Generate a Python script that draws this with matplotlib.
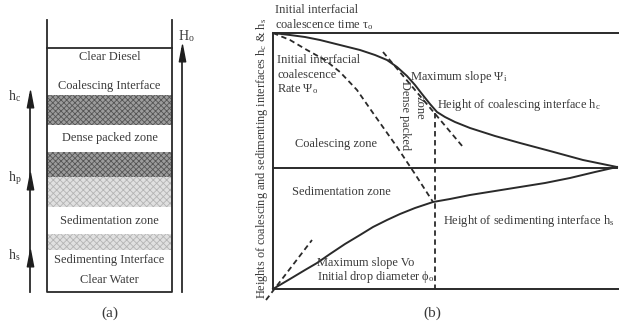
import matplotlib.pyplot as plt
from matplotlib.path import Path

plt.rcParams['font.family'] = ['Liberation Serif', 'DejaVu Serif']
plt.rcParams['mathtext.fontset'] = 'stix'
plt.rcParams['hatch.linewidth'] = 0.6

INK = '#2a2a2a'
TXT = '#3a3a3a'

# ---- panel (a): settling column (pixel units of the sketch) ----
col_left, col_right = 47, 172
col_top, col_bottom = 20, 292
diesel_line = 48
dark_zones = [(95, 125), (152, 177)]
light_zones = [(177, 207), (234, 250)]
col_labels = ['Clear Diesel', 'Coalescing Interface', 'Dense packed zone',
              'Sedimentation zone', 'Sedimenting Interface', 'Clear Water']
col_label_y = [57, 86, 138, 221, 260, 280]
left_arrow_x, right_arrow_x = 30, 182
left_heads = [93, 175, 252]
left_names = [r'h$_\mathregular{c}$', r'h$_\mathregular{p}$', r'h$_\mathregular{s}$']
right_head = 47

# ---- panel (b): interface heights vs time ----
frame_left, frame_right = 273, 619
frame_top, frame_mid, frame_bottom = 33, 168, 289
hc_x = [273, 290, 305, 320, 340, 360, 375, 387, 397, 407, 415, 422, 430, 437,
        445, 455, 470, 495, 520, 550, 583, 617]
hc_y = [33, 35, 37, 40, 45, 50, 55, 60, 67, 76, 85, 94, 104, 112,
        117, 122, 128, 136, 143, 151, 160, 167]
hs_x = [273, 290, 305, 317, 330, 345, 360, 373, 387, 400, 415, 433, 450,
        470, 495, 520, 545, 570, 595, 617]
hs_y = [289, 279, 270, 263, 254, 244, 235, 227, 220, 214, 208, 202, 199,
        195, 191, 187, 183, 178, 172, 167]
rate_x = [273, 290, 307, 325, 340, 357, 373, 385, 397, 415, 433]
rate_y = [33, 40, 50, 60, 72, 90, 113, 130, 147, 174, 202]
max_slope_x = [383, 463]
max_slope_y = [52, 147]
vo_x = [266, 312]
vo_y = [300, 240]
tau_x = 435

fig = plt.figure(figsize=(6.19, 3.24), dpi=100)
ax = fig.add_axes([0, 0, 1, 1])
ax.set_xlim(0, 619)
ax.set_ylim(324, 0)
ax.axis('off')

# column fills
for top, bot in dark_zones:
    ax.fill_between([col_left, col_right], top, bot, facecolor='#9c9c9c',
                    hatch='xxxxxx', edgecolor='#555555', linewidth=0)
for top, bot in light_zones:
    ax.fill_between([col_left, col_right], top, bot, facecolor='#e0e0e0',
                    hatch='xxxxx', edgecolor='#b4b4b4', linewidth=0)

# column walls
ax.plot([col_left, col_left, col_right, col_right],
        [col_top, col_bottom, col_bottom, col_top], color=INK, lw=1.3)
ax.plot([col_left, col_right], [diesel_line, diesel_line], color=INK, lw=1.3)

for s, y in zip(col_labels, col_label_y):
    ax.text((col_left + col_right) / 2, y, s, ha='center', va='center',
            fontsize=8.9, color=TXT)

# arrows
head = Path([(0, 1), (-0.38, -1), (0.38, -1), (0, 1)],
            [Path.MOVETO, Path.LINETO, Path.LINETO, Path.CLOSEPOLY])
ax.plot([left_arrow_x, left_arrow_x], [col_bottom, left_heads[0] + 2],
        color=INK, lw=1.3)
ax.plot([left_arrow_x] * len(left_heads), [h + 6 for h in left_heads],
        ls='none', marker=head, ms=12, color='#1e1e1e')
for name, h in zip(left_names, left_heads):
    ax.text(8, h + 3, name, ha='left', va='center', fontsize=10, color=TXT)
ax.plot([right_arrow_x, right_arrow_x], [col_bottom, right_head + 2],
        color=INK, lw=1.3)
ax.plot([right_arrow_x], [right_head + 6], ls='none', marker=head, ms=12,
        color='#1e1e1e')
ax.text(178, 36, r'H$_\mathregular{o}$', ha='left', va='center', fontsize=10,
        color=TXT)
ax.text((col_left + col_right) / 2, 313, '(a)', ha='center', va='center',
        fontsize=11, color=TXT)

# panel (b) frame
ax.plot([frame_right, frame_left, frame_left, frame_right],
        [frame_top, frame_top, frame_bottom, frame_bottom], color=INK, lw=1.4)
ax.plot([frame_left, 617], [frame_mid, frame_mid], color=INK, lw=1.4)

# curves
ax.plot(hc_x, hc_y, color=INK, lw=1.4)
ax.plot(hs_x, hs_y, color=INK, lw=1.4)
ax.plot(rate_x, rate_y, color=INK, lw=1.3, ls=(0, (3, 2)))
ax.plot(max_slope_x, max_slope_y, color=INK, lw=1.3, ls=(0, (3, 2)))
ax.plot(vo_x, vo_y, color=INK, lw=1.3, ls=(0, (3, 2)))
ax.plot([tau_x, tau_x], [113, frame_bottom], color=INK, lw=1.3, ls=(0, (3, 2)))

fs = 8.9
ax.text(275, 10, 'Initial interfacial', fontsize=fs, color=TXT, va='center')
ax.text(275, 25, r'coalescence time $\mathregular{\tau_o}$', fontsize=fs,
        color=TXT, va='center')
ax.text(277, 60, 'Initial interfacial', fontsize=fs, color=TXT, va='center')
ax.text(277, 75, 'coalescence', fontsize=fs, color=TXT, va='center')
ax.text(277, 89, r'Rate $\mathregular{\Psi_o}$', fontsize=fs, color=TXT,
        va='center')
ax.text(410, 77, r'Maximum slope $\mathregular{\Psi_i}$', fontsize=fs,
        color=TXT, va='center')
ax.text(437, 105, r'Height of coalescing interface h$_\mathregular{c}$',
        fontsize=fs, color=TXT, va='center')
ax.text(405, 116, 'Dense packed', fontsize=fs, color=TXT, rotation=270,
        ha='center', va='center')
ax.text(420, 108, 'zone', fontsize=fs, color=TXT, rotation=270,
        ha='center', va='center')
ax.text(295, 144, 'Coalescing zone', fontsize=fs, color=TXT, va='center')
ax.text(292, 192, 'Sedimentation zone', fontsize=fs, color=TXT, va='center')
ax.text(443, 221, r'Height of sedimenting interface h$_\mathregular{s}$',
        fontsize=fs, color=TXT, va='center')
ax.text(317, 263, 'Maximum slope Vo', fontsize=fs, color=TXT, va='center')
ax.text(317, 277, r'Initial drop diameter $\mathregular{\phi_o}$', fontsize=fs,
        color=TXT, va='center')
ax.text(262, 158,
        r'Heights of coalescing and sedimenting interfaces h$_\mathregular{c}$'
        r' & h$_\mathregular{s}$',
        fontsize=8.8, color=TXT, rotation=90, ha='center', va='center')
ax.text(432, 313, '(b)', ha='center', va='center', fontsize=11, color=TXT)

fig.savefig('out.png', dpi=100)
